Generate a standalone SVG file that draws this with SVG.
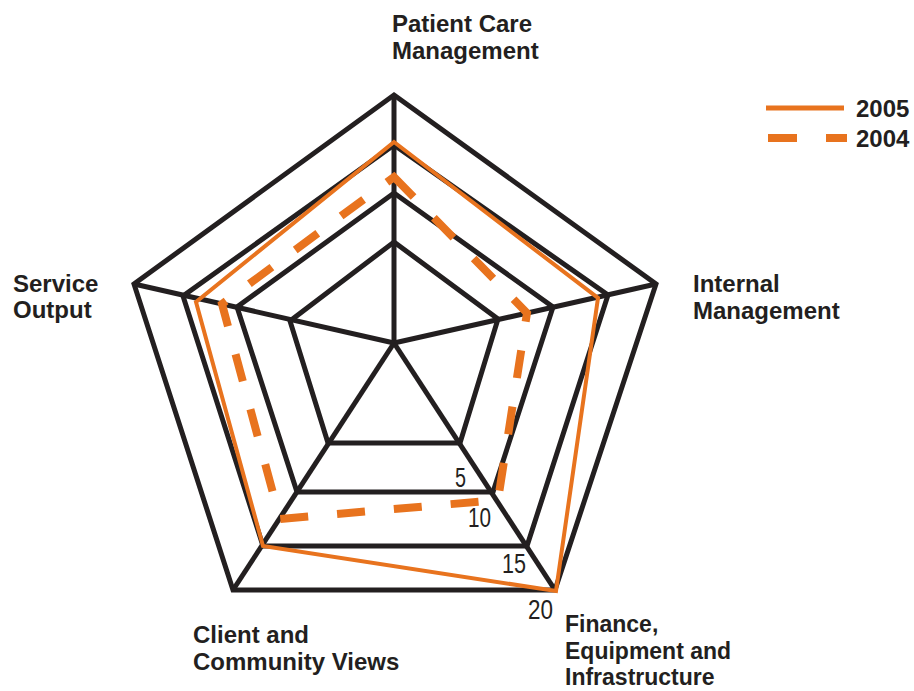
<svg xmlns="http://www.w3.org/2000/svg" width="914" height="691" viewBox="0 0 914 691">
<style>
.grid{fill:none;stroke:#231F20;stroke-width:5;stroke-linejoin:miter}
.spoke{stroke:#231F20;stroke-width:5}
.s2005{fill:none;stroke:#E8731E;stroke-width:4;stroke-linejoin:miter}
.s2004{fill:none;stroke:#E8731E;stroke-width:8;stroke-dasharray:28 29}
.lbl{font-family:"Liberation Sans",Arial,sans-serif;font-weight:bold;font-size:24px;fill:#231F20}
.tick{font-family:"Liberation Sans",Arial,sans-serif;font-size:27px;fill:#231F20}
</style>
<rect width="914" height="691" fill="#ffffff"/>
<g id="grid">
<polygon class="grid" points="394,242 498,319 460,443 328,443 290,321"/>
<polygon class="grid" points="394,193 553,307 493,492 297,492 237,307"/>
<polygon class="grid" points="394,145 608,295 527,546 263,546 183,296"/>
<polygon class="grid" points="394,95 656,284 555,590 233,590 134,284"/>
</g>
<g id="connectors">
<line class="spoke" x1="394" y1="343" x2="394" y2="95"/>
<line class="spoke" x1="394" y1="343" x2="656" y2="284"/>
<line class="spoke" x1="394" y1="343" x2="555" y2="590"/>
<line class="spoke" x1="394" y1="343" x2="233" y2="590"/>
<line class="spoke" x1="394" y1="343" x2="134" y2="284"/>
</g>
<g id="series-2004">
<polygon class="s2004" points="394,177 527,313 498,500 280,519 222,304"/>
</g>
<g id="series-2005">
<polygon class="s2005" points="394,142 598,298 556,591 263,546 196,302"/>
</g>
<g id="ticks">
<text class="tick" x="455" y="487" textLength="11" lengthAdjust="spacingAndGlyphs">5</text>
<text class="tick" x="468" y="527" textLength="23" lengthAdjust="spacingAndGlyphs">10</text>
<text class="tick" x="502" y="573" textLength="24" lengthAdjust="spacingAndGlyphs">15</text>
<text class="tick" x="528" y="619" textLength="25" lengthAdjust="spacingAndGlyphs">20</text>
</g>
<g id="node-patient-care">
<text class="lbl" x="392" y="32">Patient Care</text>
<text class="lbl" x="392" y="59">Management</text>
</g>
<g id="node-internal">
<text class="lbl" x="693" y="292">Internal</text>
<text class="lbl" x="693" y="319">Management</text>
</g>
<g id="node-finance">
<text class="lbl" x="565" y="632" style="font-size:23px">Finance,</text>
<text class="lbl" x="565" y="658.5" style="font-size:23px">Equipment and</text>
<text class="lbl" x="565" y="685" style="font-size:23px">Infrastructure</text>
</g>
<g id="node-client">
<text class="lbl" x="193" y="643">Client and</text>
<text class="lbl" x="193" y="670">Community Views</text>
</g>
<g id="node-service">
<text class="lbl" x="13" y="292">Service</text>
<text class="lbl" x="13" y="318">Output</text>
</g>
<g id="legend">
<line x1="766" y1="108" x2="844" y2="108" stroke="#E8731E" stroke-width="5"/>
<line x1="768" y1="138" x2="847" y2="138" stroke="#E8731E" stroke-width="8" stroke-dasharray="29 29"/>
<text class="lbl" x="856" y="117">2005</text>
<text class="lbl" x="856" y="147">2004</text>
</g>
</svg>
